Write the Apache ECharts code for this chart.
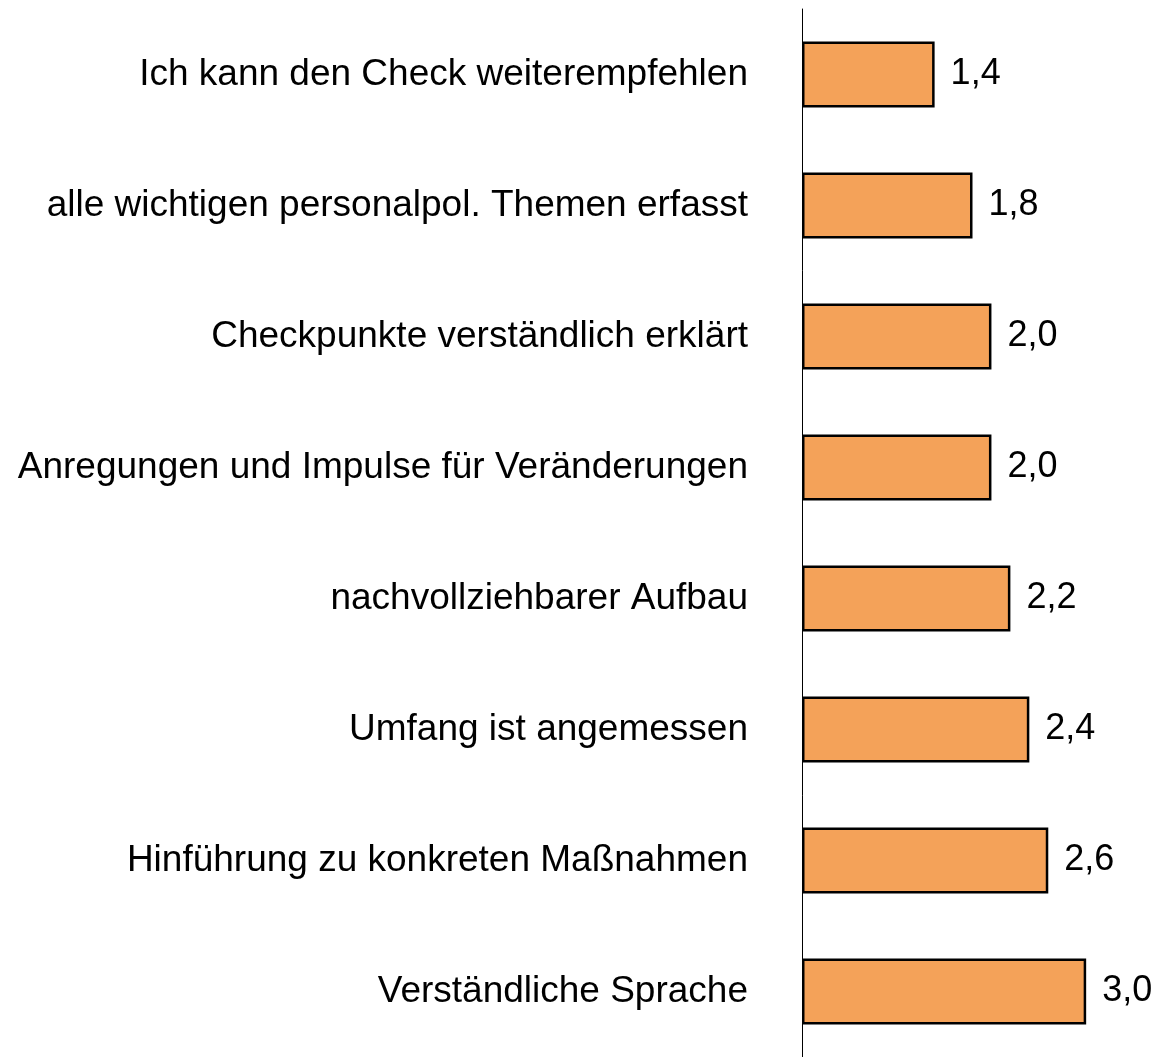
<!DOCTYPE html>
<html>
<head>
    <meta charset="utf-8" />
    <script src="https://cdn.jsdelivr.net/npm/echarts@6/dist/echarts.min.js"></script>
    <title></title>
    <style>
        html, body { margin: 0; padding: 0; background: #fff; }
    </style>
</head>
<body>
    <div id="main" style="width: 1158px;height:1057px;"></div>
</body>
</html>
<script>
    var categories = [
        'Ich kann den Check weiterempfehlen',
        'alle wichtigen personalpol. Themen erfasst',
        'Checkpunkte verständlich erklärt',
        'Anregungen und Impulse für Veränderungen',
        'nachvollziehbarer Aufbau',
        'Umfang ist angemessen',
        'Hinführung zu konkreten Maßnahmen',
        'Verständliche Sprache'
    ];
    var values = [1.4, 1.8, 2.0, 2.0, 2.2, 2.4, 2.6, 3.0];

    var chart = echarts.init(document.getElementById('main'));
    var option = {
        animation: false,
        grid: { left: 802, right: 15, top: 9, bottom: -4, containLabel: false },
        xAxis: {
            type: 'value',
            min: 0,
            max: 3.6,
            show: false
        },
        yAxis: {
            type: 'category',
            inverse: true,
            data: categories,
            axisLine: { show: true, lineStyle: { color: '#000', width: 1 } },
            axisTick: { show: false },
            axisLabel: {
                margin: 54,
                color: '#000',
                fontSize: 37,
                fontFamily: 'Liberation Sans, Arial, sans-serif'
            }
        },
        series: [{
            type: 'bar',
            data: values,
            barWidth: 66,
            itemStyle: { color: '#F4A259', borderColor: '#000', borderWidth: 2.5 },
            label: {
                show: true,
                position: 'right',
                distance: 16,
                color: '#000',
                fontSize: 36,
                fontFamily: 'Liberation Sans, Arial, sans-serif',
                formatter: function (p) { return p.value.toFixed(1).replace('.', ','); }
            }
        }]
    };
    chart.setOption(option);
</script>
